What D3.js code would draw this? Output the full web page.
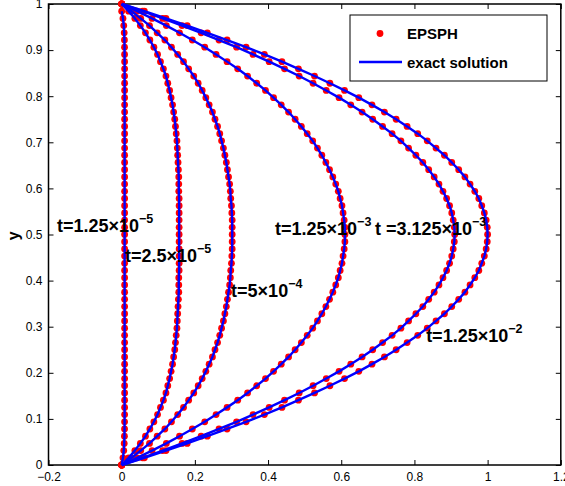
<!DOCTYPE html>
<html>
<head>
<meta charset="utf-8">
<script src="https://cdn.jsdelivr.net/npm/d3@7"></script>
<style>
  html, body { margin: 0; padding: 0; background: #fff; }
  svg { display: block; }
  text { font-family: "Liberation Sans", Arial, Helvetica, sans-serif; }
</style>
</head>
<body>
<svg id="chart" width="565" height="486"></svg>
<script>
// Particle positions across the channel (y) and velocity profiles (x) at each time
const yPos = [0,.015625,.03125,.046875,.0625,.078125,.09375,.109375,.125,.140625,.15625,.171875,.1875,.203125,.21875,.234375,.25,.265625,.28125,.296875,.3125,.328125,.34375,.359375,.375,.390625,.40625,.421875,.4375,.453125,.46875,.484375,.5,.515625,.53125,.546875,.5625,.578125,.59375,.609375,.625,.640625,.65625,.671875,.6875,.703125,.71875,.734375,.75,.765625,.78125,.796875,.8125,.828125,.84375,.859375,.875,.890625,.90625,.921875,.9375,.953125,.96875,.984375,1];

const u1 = [0,.0035,.0057,.0069,.0075,.0078,.0079,
  .008,.008,.008,.008,.008,.008,.008,.008,.008,.008,.008,.008,.008,.008,.008,.008,.008,.008,.008,.008,.008,
  .008,.008,.008,.008,.008,.008,.008,.008,.008,.008,.008,.008,.008,.008,.008,.008,.008,.008,.008,.008,.008,
  .008,.008,.008,.008,.008,.008,.008,.008,
  .0079,.0078,.0075,.0069,.0057,.0035,0];

const u2 = [0,.019,.036,.051,.065,.077,.088,.098,.106,.114,.121,.126,.131,.135,.139,.142,.145,.147,.149,.151,.152,.153,.154,.155,.156,.156,.156,.157,.157,.157,.157,.157,.157,
  .157,.157,.157,.157,.157,.156,.156,.156,.155,.154,.153,.152,.151,.149,.147,.145,.142,.139,.135,.131,.126,.121,.114,.106,.098,.088,.077,.065,.051,.036,.019,0];

const u3 = [0,.027,.052,.076,.097,.118,.136,.153,.169,.183,.197,.209,.220,.230,.239,.248,.255,.262,.268,.273,.278,.282,.286,.289,.292,.295,.297,.298,.300,.301,.302,.302,.302,
  .302,.302,.301,.300,.298,.297,.295,.292,.289,.286,.282,.278,.273,.268,.262,.255,.248,.239,.230,.220,.209,.197,.183,.169,.153,.136,.118,.097,.076,.052,.027,0];

const u4 = [0,.042,.083,.122,.158,.193,.227,.258,.288,.317,.344,.369,.393,.415,.436,.456,.474,.491,.507,.522,.535,.547,.558,.568,.577,.585,.592,.597,.602,.605,.608,.610,.610,
  .610,.608,.605,.602,.597,.592,.585,.577,.568,.558,.547,.535,.522,.507,.491,.474,.456,.436,.415,.393,.369,.344,.317,.288,.258,.227,.193,.158,.122,.083,.042,0];

const u5 = [0,.057,.112,.165,.217,.266,.314,.359,.403,.445,.485,.523,.559,.594,.626,.657,.686,.713,.739,.763,.784,.804,.823,.839,.854,.867,.878,.888,.896,.902,.906,.909,.910,
  .909,.906,.902,.896,.888,.878,.867,.854,.839,.823,.804,.784,.763,.739,.713,.686,.657,.626,.594,.559,.523,.485,.445,.403,.359,.314,.266,.217,.165,.112,.057,0];

const u6 = [0,.062,.121,.179,.234,.288,.340,.390,.438,.483,.527,.569,.609,.648,.684,.718,.750,.780,.809,.835,.859,.882,.902,.921,.938,.952,.965,.976,.984,.991,.996,.999,1,
  .999,.996,.991,.984,.976,.965,.952,.938,.921,.902,.882,.859,.835,.809,.780,.750,.718,.684,.648,.609,.569,.527,.483,.438,.390,.340,.288,.234,.179,.121,.062,0];

const profiles = [u1, u2, u3, u4, u5, u6];

// Axis ticks
const xTicks = [-0.2, 0, 0.2, 0.4, 0.6, 0.8, 1, 1.2];
const xTickLabels = ["\u22120.2", "0", "0.2", "0.4", "0.6", "0.8", "1", "1.2"];
const yTicks = [0, 0.1, 0.2, 0.3, 0.4, 0.5, 0.6, 0.7, 0.8, 0.9, 1];
const yTickLabels = ["0", "0.1", "0.2", "0.3", "0.4", "0.5", "0.6", "0.7", "0.8", "0.9", "1"];

// Time annotations: mantissa text, exponent, anchor (data coords)
const timeText = ["t=1.25\u00d710", "t=2.5\u00d710", "t=5\u00d710", "t=1.25\u00d710", "t =3.125\u00d710", "t=1.25\u00d710"];
const timeExp  = ["\u22125", "\u22125", "\u22124", "\u22123", "\u22123", "\u22122"];
const timeAtX  = [-0.177, 0.009, 0.299, 0.419, 0.692, 0.832];
const timeAtY  = [0.505, 0.441, 0.364, 0.499, 0.499, 0.267];

const legendNames = ["EPSPH", "exact solution"];

const svg = d3.select("#chart");
const x = d3.scaleLinear().domain([-0.2, 1.2]).range([48.5, 560.8]);
const y = d3.scaleLinear().domain([0, 1]).range([465, 4]);

const RED = "#ff0000", BLUE = "#0000ff";

// Axes with inward ticks on all four sides
function styleAxis(g) {
  g.select(".domain").remove();
  g.selectAll(".tick line").attr("stroke", "#000").attr("stroke-width", 1);
  g.selectAll(".tick text").attr("fill", "#000").style("font-size", "12px")
    .style("font-family", "'Liberation Sans', Arial, sans-serif");
}
svg.append("g").attr("transform", `translate(0,${y(0)})`)
  .call(d3.axisBottom(x).tickValues(xTicks).tickFormat((d, i) => xTickLabels[i])
    .tickSizeInner(-5).tickSizeOuter(0).tickPadding(7))
  .call(styleAxis);
svg.append("g").attr("transform", `translate(0,${y(1)})`)
  .call(d3.axisTop(x).tickValues(xTicks).tickFormat("").tickSizeInner(-5).tickSizeOuter(0))
  .call(styleAxis);
svg.append("g").attr("transform", `translate(${x(-0.2)},0)`)
  .call(d3.axisLeft(y).tickValues(yTicks).tickFormat((d, i) => yTickLabels[i])
    .tickSizeInner(-5).tickSizeOuter(0).tickPadding(6))
  .call(styleAxis);
svg.append("g").attr("transform", `translate(${x(1.2)},0)`)
  .call(d3.axisRight(y).tickValues(yTicks).tickFormat("").tickSizeInner(-5).tickSizeOuter(0))
  .call(styleAxis);

svg.append("rect")
  .attr("x", x(-0.2)).attr("y", y(1))
  .attr("width", x(1.2) - x(-0.2)).attr("height", y(0) - y(1))
  .attr("fill", "none").attr("stroke", "#000").attr("stroke-width", 1.5);

// Axis title
svg.append("text")
  .attr("transform", `translate(19,${y(0.497)}) rotate(-90)`)
  .attr("text-anchor", "middle")
  .style("font-size", "16px").style("font-weight", "bold")
  .text("y");

// Particle markers first, exact-solution lines on top
const plot = svg.append("g");
profiles.forEach(u => {
  plot.append("g").selectAll("circle")
    .data(u.map((v, i) => [v, yPos[i]]))
    .join("circle")
    .attr("cx", d => x(d[0])).attr("cy", d => y(d[1]))
    .attr("r", 3.4).attr("fill", RED);
});
const line = d3.line().x(d => x(d[0])).y(d => y(d[1]));
profiles.forEach(u => {
  plot.append("path")
    .attr("d", line(u.map((v, i) => [v, yPos[i]])))
    .attr("fill", "none").attr("stroke", BLUE).attr("stroke-width", 2.4)
    .attr("stroke-linejoin", "round");
});

// Time labels
timeText.forEach((t, i) => {
  const tx = svg.append("text")
    .attr("x", x(timeAtX[i])).attr("y", y(timeAtY[i]))
    .style("font-size", "18px").style("font-weight", "bold").attr("fill", "#000");
  tx.append("tspan").text(t);
  tx.append("tspan").attr("dy", -9).style("font-size", "12.5px").text(timeExp[i]);
});

// Legend
const lg = svg.append("g");
lg.append("rect").attr("x", 350).attr("y", 15).attr("width", 197).attr("height", 66)
  .attr("fill", "#fff").attr("stroke", "#000").attr("stroke-width", 1);
lg.append("circle").attr("cx", 380).attr("cy", 33.5).attr("r", 3.4).attr("fill", RED);
lg.append("line").attr("x1", 359).attr("x2", 402).attr("y1", 62).attr("y2", 62)
  .attr("stroke", BLUE).attr("stroke-width", 2.4);
lg.selectAll("text.lab").data(legendNames).join("text").attr("class", "lab")
  .attr("x", 407).attr("y", (d, i) => 39 + i * 29)
  .style("font-size", "15px").style("font-weight", "bold")
  .text(d => d);
</script>
</body>
</html>
